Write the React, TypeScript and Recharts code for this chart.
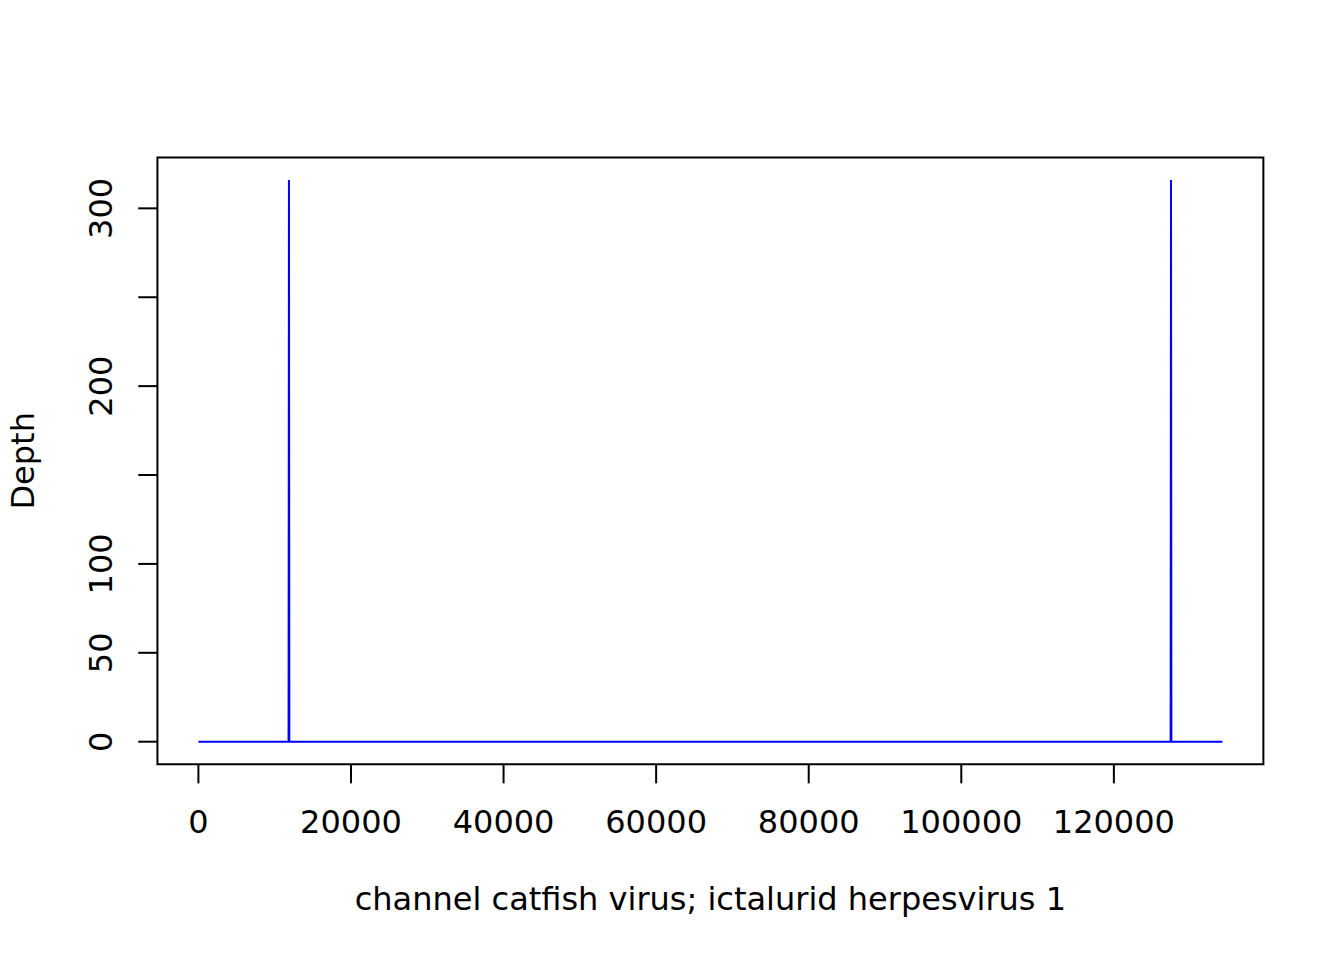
import React from 'react';
import { LineChart, Line, XAxis, YAxis, ReferenceArea } from 'recharts';

// Depth along genome position (bp)
const positions = [0, 11820, 11870, 11920, 127440, 127490, 127540, 134226];
const depths = [0, 0, 316, 0, 0, 316, 0, 0];

const xTicks = [0, 20000, 40000, 60000, 80000, 100000, 120000];
const xTickLabels = ['0', '20000', '40000', '60000', '80000', '100000', '120000'];
const yTicks = [0, 50, 100, 150, 200, 250, 300];
const yTickLabels = ['0', '50', '100', '', '200', '', '300'];

const xTitle = 'channel catfish virus; ictalurid herpesvirus 1';
const yTitle = 'Depth';

const data = positions.map((p, i) => ({ pos: p, depth: depths[i] }));

const xMaxData = 134226;
const yMaxData = 316;
const xDomain: [number, number] = [-0.04 * xMaxData, 1.04 * xMaxData];
const yDomain: [number, number] = [-0.04 * yMaxData, 1.04 * yMaxData];

const FONT = '"DejaVu Sans", sans-serif';
const FS = 32;
const LINE = 38.4;
const AXIS_W = 100;
const AXIS_H = 100;

const XTick = (props: any) => {
  const { x, y, payload } = props;
  const idx = xTicks.indexOf(payload.value);
  const label = idx >= 0 ? xTickLabels[idx] : String(payload.value);
  return (
    <text x={x} y={y} textAnchor="middle" fontFamily={FONT} fontSize={FS} fill="#000">
      {label}
    </text>
  );
};

const YTick = (props: any) => {
  const { x, y, payload } = props;
  const idx = yTicks.indexOf(payload.value);
  const label = idx >= 0 ? yTickLabels[idx] : String(payload.value);
  if (!label) return <g />;
  return (
    <text
      x={x}
      y={y}
      textAnchor="middle"
      transform={`rotate(-90, ${x}, ${y})`}
      fontFamily={FONT}
      fontSize={FS}
      fill="#000"
    >
      {label}
    </text>
  );
};

export default function App() {
  const W = 1344;
  const H = 960;
  const plotLeft = 4.1 * LINE;
  const plotRight = W - 2.1 * LINE;
  const plotTop = 4.1 * LINE;
  const plotBottom = H - 5.1 * LINE;
  const margin = { top: plotTop, right: W - plotRight, left: plotLeft - AXIS_W, bottom: H - plotBottom - AXIS_H };
  const plotCx = (plotLeft + plotRight) / 2;
  const plotCy = (plotTop + plotBottom) / 2;
  return (
    <div style={{ position: 'absolute', left: 0, top: 0, width: W, height: H, background: '#fff' }}>
      <LineChart width={W} height={H} data={data} margin={margin}>
        <XAxis
          dataKey="pos"
          type="number"
          domain={xDomain}
          allowDataOverflow
          ticks={xTicks}
          interval={0}
          height={AXIS_H}
          axisLine={false}
          tickSize={19.2}
          tickMargin={833 - (plotBottom + 19.2)}
          tickLine={{ stroke: '#000', strokeWidth: 2 }}
          tick={<XTick />}
        />
        <YAxis
          dataKey="depth"
          type="number"
          domain={yDomain}
          allowDataOverflow
          ticks={yTicks}
          interval={0}
          width={AXIS_W}
          axisLine={false}
          tickSize={19.2}
          tickMargin={plotLeft - 19.2 - 112}
          tickLine={{ stroke: '#000', strokeWidth: 2 }}
          tick={<YTick />}
        />
        <ReferenceArea
          x1={xDomain[0]}
          x2={xDomain[1]}
          y1={yDomain[0]}
          y2={yDomain[1]}
          fill="none"
          fillOpacity={0}
          stroke="#000"
          strokeWidth={2}
          ifOverflow="visible"
        />
        <Line
          type="linear"
          dataKey="depth"
          stroke="#0000FF"
          strokeWidth={2}
          dot={false}
          activeDot={false}
          isAnimationActive={false}
        />
      </LineChart>
      <svg
        width={W}
        height={H}
        style={{ position: 'absolute', left: 0, top: 0, pointerEvents: 'none' }}
      >
        <text x={plotCx} y={910} textAnchor="middle" fontFamily={FONT} fontSize={FS} fill="#000">
          {xTitle}
        </text>
        <text
          x={34}
          y={plotCy}
          textAnchor="middle"
          transform={`rotate(-90, 34, ${plotCy})`}
          fontFamily={FONT}
          fontSize={FS}
          fill="#000"
        >
          {yTitle}
        </text>
      </svg>
    </div>
  );
}
